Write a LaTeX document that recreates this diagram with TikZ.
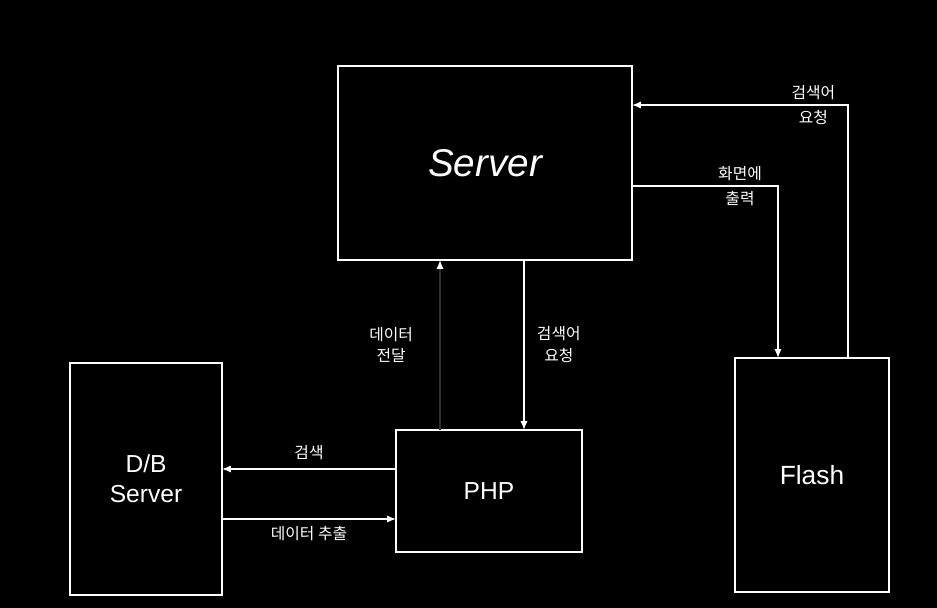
\documentclass[tikz,border=0pt]{standalone}
\usepackage{fontspec}
\setmainfont{Liberation Sans}
\newfontfamily\kor{Noto Sans CJK KR}
\usetikzlibrary{arrows.meta, positioning}

\begin{document}
\begin{tikzpicture}[
  x=0.02cm, y=-0.02cm,
  box/.style={rectangle, draw=white, line width=0.8pt, inner sep=0pt, outer sep=0pt,
              text=white, align=center},
  arrow/.style={-{Latex[length=5pt, width=4pt]}, line width=0.8pt, white},
  lbl/.style={text=white, font=\kor\fontsize{9}{12.5}\selectfont, align=center, inner sep=1pt}
]
% background
\fill[black] (0,0) rectangle (937,608);
\useasboundingbox (0,0) rectangle (937,608);

% boxes
\node[box, minimum width=5.88cm, minimum height=3.88cm, font=\fontsize{22}{26}\selectfont\itshape]
  (server) at (485,163) {Server};
\node[box, minimum width=3.72cm, minimum height=2.44cm, font=\fontsize{14}{17}\selectfont]
  (php) at (489,491) {PHP};
\node[box, minimum width=3.04cm, minimum height=4.64cm, font=\fontsize{14}{17}\selectfont]
  (db) at (146,479) {D/B\\Server};
\node[box, minimum width=3.08cm, minimum height=4.68cm, font=\fontsize{15}{18}\selectfont]
  (flash) at (812,475) {Flash};

% Flash <-> Server
\draw[arrow] ([xshift=0.72cm]flash.north) |- ([yshift=1.16cm]server.east)
  node[lbl, pos=0.58] {검색어\\[2pt]요청};
\draw[arrow] ([yshift=-0.46cm]server.east) -| ([xshift=-0.68cm]flash.north)
  node[lbl, pos=0.37] {화면에\\[2pt]출력};

% Server <-> PHP
\draw[arrow] ([xshift=0.78cm]server.south) -- ([xshift=0.78cm]server.south |- php.north)
  node[lbl, midway, right=6pt] {검색어\\요청};
\draw[-{Latex[length=5pt, width=4pt, color=white]}, line width=0.8pt, white!18!black]
  ([xshift=-0.9cm]server.south |- php.north) -- ([xshift=-0.9cm]server.south)
  node[lbl, midway, left=14pt] {데이터\\전달};

% PHP <-> D/B
\draw[arrow] ([yshift=0.44cm]php.west) -- ([yshift=0.44cm]php.west -| db.east)
  node[lbl, midway, above=4pt] {검색};
\draw[arrow] ([yshift=-0.56cm]php.west -| db.east) -- ([yshift=-0.56cm]php.west)
  node[lbl, midway, below=3pt] {데이터 추출};
\end{tikzpicture}
\end{document}
